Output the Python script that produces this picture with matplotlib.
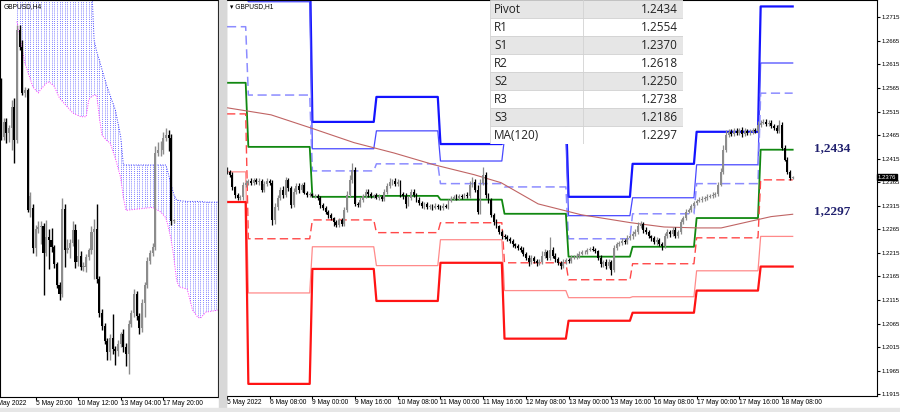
import numpy as np
import matplotlib.pyplot as plt
from matplotlib.patches import Rectangle

# ---- H1 data (GBPUSD, from 5 May 16:00) ----
h1_close = [
    1.2387, 1.2381, 1.2355, 1.2338, 1.2332, 1.2334, 1.2360, 1.2364, 1.2368, 1.2364,
    1.2370, 1.2366, 1.2368, 1.2349, 1.2362, 1.2368, 1.2364, 1.2285, 1.2313, 1.2332,
    1.2349, 1.2338, 1.2370, 1.2353, 1.2317, 1.2345, 1.2358, 1.2349, 1.2360, 1.2343,
    1.2338, 1.2340, 1.2336, 1.2336, 1.2332, 1.2317, 1.2311, 1.2302, 1.2296, 1.2289,
    1.2281, 1.2275, 1.2285, 1.2277, 1.2306, 1.2338, 1.2370, 1.2391, 1.2319, 1.2317,
    1.2328, 1.2336, 1.2345, 1.2340, 1.2336, 1.2338, 1.2332, 1.2334, 1.2330, 1.2345,
    1.2358, 1.2366, 1.2368, 1.2362, 1.2366, 1.2340, 1.2336, 1.2319, 1.2332, 1.2345,
    1.2338, 1.2328, 1.2321, 1.2315, 1.2319, 1.2313, 1.2315, 1.2311, 1.2315, 1.2313,
    1.2311, 1.2315, 1.2313, 1.2326, 1.2330, 1.2334, 1.2332, 1.2336, 1.2334, 1.2338,
    1.2336, 1.2360, 1.2366, 1.2349, 1.2302, 1.2364, 1.2381, 1.2338, 1.2328, 1.2296,
    1.2281, 1.2272, 1.2260, 1.2251, 1.2249, 1.2245, 1.2240, 1.2234, 1.2230, 1.2226,
    1.2222, 1.2213, 1.2205, 1.2196, 1.2205, 1.2198, 1.2194, 1.2196, 1.2209, 1.2217,
    1.2205, 1.2222, 1.2209, 1.2202, 1.2194, 1.2188, 1.2196, 1.2200, 1.2198, 1.2205,
    1.2207, 1.2209, 1.2213, 1.2217, 1.2217, 1.2222, 1.2224, 1.2222, 1.2219, 1.2205,
    1.2192, 1.2196, 1.2188, 1.2196, 1.2179, 1.2226, 1.2234, 1.2236, 1.2240, 1.2238,
    1.2247, 1.2251, 1.2255, 1.2260, 1.2272, 1.2277, 1.2264, 1.2260, 1.2251, 1.2247,
    1.2238, 1.2243, 1.2234, 1.2230, 1.2251, 1.2260, 1.2255, 1.2264, 1.2251, 1.2260,
    1.2281, 1.2289, 1.2302, 1.2306, 1.2315, 1.2321, 1.2326, 1.2328, 1.2330, 1.2332,
    1.2334, 1.2336, 1.2338, 1.2340, 1.2360, 1.2387, 1.2434, 1.2466, 1.2472, 1.2468,
    1.2474, 1.2470, 1.2476, 1.2468, 1.2474, 1.2470, 1.2472, 1.2476, 1.2474, 1.2487,
    1.2491, 1.2493, 1.2489, 1.2491, 1.2485, 1.2481, 1.2474, 1.2487, 1.2438, 1.2413,
    1.2387, 1.2374, 1.2376]
h1_first_open = 1.2392
# upper / lower wick lengths in pips
h1_up = [5, 4, 6, 3, 5, 4, 6, 5, 4, 6, 4, 5, 6, 4, 5, 6, 4, 5, 7, 6,
         5, 8, 6, 5, 4, 7, 5, 6, 4, 5, 4, 5, 3, 4, 5, 4, 3, 4, 5, 4,
         3, 4, 5, 4, 6, 8, 10, 15, 6, 5, 5, 4, 6, 5, 4, 3, 4, 5, 4, 6,
         5, 8, 4, 6, 5, 4, 5, 6, 4, 5, 5, 4, 6, 5, 4, 5, 3, 4, 5, 4,
         4, 5, 3, 4, 6, 4, 5, 3, 4, 5, 6, 8, 11, 6, 10, 8, 17, 6, 5, 4,
         4, 5, 3, 4, 5, 3, 4, 5, 3, 4, 4, 5, 4, 6, 5, 4, 3, 7, 9, 6,
         5, 27, 6, 5, 4, 3, 6, 5, 4, 5, 4, 5, 6, 5, 4, 3, 4, 5, 4, 3,
         5, 4, 5, 6, 4, 5, 4, 5, 6, 4, 5, 4, 6, 5, 8, 6, 4, 5, 4, 3,
         4, 5, 3, 4, 6, 5, 4, 6, 5, 4, 5, 4, 6, 5, 4, 5, 4, 6, 5, 4,
         5, 4, 6, 5, 6, 8, 10, 9, 6, 5, 6, 7, 5, 6, 5, 4, 6, 5, 4, 8,
         5, 6, 7, 5, 6, 4, 5, 10, 5, 6, 5, 4, 2]
h1_dn = [4, 5, 6, 7, 5, 4, 6, 5, 4, 5, 5, 4, 6, 5, 4, 6, 5, 10, 8, 6,
         5, 6, 4, 6, 7, 5, 4, 6, 5, 4, 5, 4, 3, 5, 4, 6, 5, 4, 6, 5,
         9, 6, 4, 5, 4, 5, 4, 6, 5, 4, 4, 5, 4, 6, 5, 4, 3, 4, 5, 4,
         4, 5, 6, 4, 5, 6, 7, 8, 5, 4, 5, 6, 4, 5, 6, 4, 5, 4, 3, 4,
         5, 4, 3, 5, 4, 3, 4, 5, 4, 3, 4, 5, 6, 5, 5, 4, 5, 6, 7, 5,
         6, 5, 4, 6, 5, 4, 5, 6, 5, 4, 5, 4, 6, 8, 5, 4, 6, 5, 4, 5,
         6, 5, 4, 6, 5, 7, 4, 5, 4, 5, 4, 5, 4, 3, 4, 5, 4, 3, 5, 6,
         7, 6, 8, 6, 10, 5, 4, 5, 4, 5, 4, 5, 6, 4, 5, 4, 6, 5, 4, 6,
         5, 6, 4, 8, 5, 4, 6, 5, 4, 5, 4, 5, 4, 3, 4, 5, 4, 3, 4, 5,
         4, 3, 4, 5, 4, 3, 4, 5, 4, 5, 4, 5, 4, 6, 5, 4, 5, 4, 5, 4,
         4, 3, 4, 5, 4, 5, 4, 5, 4, 3, 4, 5, 2]

h1_ticks = [0, 16, 32, 48, 64, 80, 96, 112, 128, 144, 160, 176, 192, 208]
h1_tick_labels = ["5 May 2022", "6 May 08:00", "9 May 00:00", "9 May 16:00",
                  "10 May 08:00", "11 May 00:00", "11 May 16:00", "12 May 08:00",
                  "13 May 00:00", "13 May 16:00", "16 May 08:00", "17 May 00:00",
                  "17 May 16:00", "18 May 08:00"]

# daily pivot levels (day start bars)
day_start = [0, 8, 32, 56, 80, 104, 128, 152, 176, 200]
R3 = [1.2879, 1.2856, 1.2493, 1.2546, 1.2446, 1.2517, 1.2334, 1.2404, 1.2472, 1.2738]
R2 = [1.2761, 1.2748, 1.2436, 1.2474, 1.2410, 1.2459, 1.2294, 1.2332, 1.2402, 1.2618]
R1 = [1.2695, 1.2550, 1.2389, 1.2404, 1.2362, 1.2355, 1.2245, 1.2298, 1.2362, 1.2554]
PP = [1.2576, 1.2440, 1.2334, 1.2336, 1.2328, 1.2298, 1.2207, 1.2228, 1.2289, 1.2434]
S1 = [1.2510, 1.2245, 1.2285, 1.2258, 1.2279, 1.2194, 1.2158, 1.2192, 1.2247, 1.2370]
S2 = [1.2387, 1.2130, 1.2228, 1.2188, 1.2243, 1.2135, 1.2120, 1.2122, 1.2177, 1.2250]
S3 = [1.2323, 1.1937, 1.2181, 1.2113, 1.2194, 1.2033, 1.2071, 1.2088, 1.2135, 1.2186]

ma_bar = [0, 16.5, 31.5, 47.6, 62.6, 77.6, 92.6, 102.7, 116.6, 132.7, 151.4, 163.8,
          176.5, 185.2, 195.3, 203.9, 212]
ma_val = [1.2523, 1.2508, 1.2480, 1.2449, 1.2427, 1.2402, 1.2381, 1.2364, 1.2319,
          1.2296, 1.2279, 1.2270, 1.2268, 1.2268, 1.2281, 1.2292, 1.2297]

table_names = ["Pivot", "R1", "S1", "R2", "S2", "R3", "S3", "MA(120)"]
table_values = [1.2434, 1.2554, 1.2370, 1.2618, 1.2250, 1.2738, 1.2186, 1.2297]

# ---- H4 data: bars from 3 May 16:00 to 5 May 12:00 (later bars come from H1) ----
h4_open = [1.2558, 1.2488, 1.2508, 1.2493, 1.2500, 1.2528, 1.2484, 1.2632, 1.2609, 1.2547, 1.2551, 1.2389]
h4_high = [1.2567, 1.2513, 1.2513, 1.2504, 1.2538, 1.2540, 1.2638, 1.2638, 1.2618, 1.2555, 1.2554, 1.2414]
h4_low = [1.2484, 1.2484, 1.2480, 1.2481, 1.2470, 1.2453, 1.2480, 1.2605, 1.2544, 1.2542, 1.2387, 1.2380]
h4_close = [1.2488, 1.2508, 1.2493, 1.2500, 1.2528, 1.2484, 1.2632, 1.2609, 1.2547, 1.2551, 1.2389, 1.2408]
h4_ticks = [-3.5, 13, 29, 45, 61]
h4_tick_labels = ["3 May 2022", "5 May 20:00", "10 May 12:00", "13 May 04:00", "17 May 20:00"]

# ichimoku cloud edges (H4 bar index)
kumo_bar = [6, 8, 9, 12, 14, 15, 17, 18, 20, 22, 25, 27, 30, 32, 33, 34, 35, 36, 37, 38,
            40, 41, 43, 45, 46, 47, 57, 60, 62, 63, 64, 65, 66, 67, 70, 72, 74, 75, 77, 82]
kumo_top = [1.2699] * 16 + [1.2618, 1.2602, 1.2591, 1.2578, 1.2554, 1.2544, 1.2524, 1.2488,
                            1.2450, 1.2450, 1.2450, 1.2450, 1.2450, 1.2437, 1.2423, 1.2410,
                            1.2403, 1.2402, 1.2401, 1.2401, 1.2401, 1.2401, 1.2400, 1.2400]
kumo_bot = [1.2643, 1.2605, 1.2587, 1.2555, 1.2547, 1.2552, 1.2560, 1.2562, 1.2556, 1.2540,
            1.2528, 1.2520, 1.2515, 1.2515, 1.2538, 1.2542, 1.2544, 1.2544, 1.2513, 1.2490,
            1.2482, 1.2480, 1.2459, 1.2433, 1.2406, 1.2389, 1.2393, 1.2387, 1.2379, 1.2365,
            1.2349, 1.2325, 1.2295, 1.2286, 1.2283, 1.2255, 1.2245, 1.2244, 1.2252, 1.2255]

W, H = 900, 412
plt.rcParams['font.family'] = ['Liberation Sans', 'DejaVu Sans']
fig = plt.figure(figsize=(9, 4.12), dpi=100)


def px_axes(x0, y0, x1, y1):
    return fig.add_axes([x0 / W, 1 - y1 / H, (x1 - x0) / W, (y1 - y0) / H])


def candles(ax, o, h, l, c, width, lw):
    o, h, l, c = map(np.asarray, (o, h, l, c))
    x = np.arange(len(c))
    cols = np.where(c >= o, '#8c8c8c', 'black')
    ax.vlines(x, l, h, colors=cols, lw=lw, zorder=4)
    ax.bar(x, np.maximum(np.abs(c - o), 0.00005), width, bottom=np.minimum(o, c),
           color=cols, linewidth=0, zorder=5)


def date_labels(ax, ticks, labels):
    ax.set_xticks([t for t in ticks if t >= ax.get_xlim()[0]])
    ax.set_xticklabels([])
    ax.tick_params(axis='x', length=2)
    tr = ax.get_xaxis_transform()
    for t, s in zip(ticks, labels):
        ax.text(t, -0.007, s, transform=tr, fontsize=4.8, ha='left', va='top', clip_on=False)


# H1 ohlc
c1 = np.array(h1_close)
o1 = np.concatenate([[h1_first_open], c1[:-1]])
hi1 = np.maximum(o1, c1) + np.array(h1_up) * 0.0001
lo1 = np.minimum(o1, c1) - np.array(h1_dn) * 0.0001

# H4 ohlc: first bars as read, the rest grouped from H1 bars
o4, h4, l4, c4 = list(h4_open), list(h4_high), list(h4_low), list(h4_close)
for k in range(0, len(c1), 4):
    o4.append(o1[k]); c4.append(c1[min(k + 3, len(c1) - 1)])
    h4.append(hi1[k:k + 4].max()); l4.append(lo1[k:k + 4].min())

# gray frame pieces
fig.patches.append(Rectangle((218.5 / W, 0), 7 / W, 1, transform=fig.transFigure,
                             color='#d8d8d8', zorder=0))
fig.patches.append(Rectangle((0, 0), 1, 4 / H, transform=fig.transFigure,
                             color='#e6e6e6', zorder=0))

# ---- left panel (H4 with cloud) ----
axl = px_axes(0, 0, 218, 397)
axl.set_xlim(-0.376, 81.58)
axl.set_ylim(1.21378, 1.26721)
poly = axl.fill_between(kumo_bar, kumo_bot, kumo_top, facecolor='none', edgecolor='none')
clip = poly.get_paths()[0]
dots = axl.vlines(np.arange(5, 83), 1.2, 1.28, colors='#5252ff', lw=0.6,
                  linestyles=(0, (1.0, 1.5)), zorder=1)
dots.set_clip_path(clip, axl.transData)
axl.plot(kumo_bar, kumo_top, color='#3030ff', lw=0.7, ls=(0, (1, 1.5)), zorder=2)
axl.plot(kumo_bar, kumo_bot, color='#ff30ff', lw=0.7, ls=(0, (1, 1.5)), zorder=2)
candles(axl, o4, h4, l4, c4, 0.8, 1.0)
axl.set_yticks([])
date_labels(axl, h4_ticks, h4_tick_labels)
for s in axl.spines.values():
    s.set_linewidth(0.8)
axl.text(0.015, 0.993, "GBPUSD,H4", transform=axl.transAxes, fontsize=4.8, va='top')

# ---- right panel (H1 with pivots) ----
ax = px_axes(226, 0, 877, 396)
ax.set_xlim(-0.375, 243.6)
ax.set_ylim(1.19113, 1.27517)

ends = day_start[1:] + [len(c1)]


def step(levels, **kw):
    xs, ys = [], []
    for s, e, v in zip(day_start, ends, levels):
        xs += [s, e - 1]
        ys += [v, v]
    ax.plot(xs, ys, **kw)


step(R3, color='#1414ff', lw=1.6, zorder=2)
step(R2, color='#4848ff', lw=0.9, zorder=2)
step(R1, color='#8c8cff', lw=1.1, ls=(0, (6, 3)), zorder=2)
step(PP, color='#118811', lw=1.3, zorder=2)
step(S1, color='#ff4848', lw=1.0, ls=(0, (6, 3)), zorder=2)
step(S2, color='#ff8a8a', lw=0.9, zorder=2)
step(S3, color='#ff1414', lw=1.6, zorder=2)
ax.plot(ma_bar, ma_val, color='#c06464', lw=0.8, zorder=2)
candles(ax, o1, hi1, lo1, c1, 0.7, 0.9)

date_labels(ax, h1_ticks, h1_tick_labels)
yt = np.round(np.arange(1.1915, 1.2716, 0.005), 4)
ax.set_yticks(yt)
ax.set_yticklabels([f"{v:.4f}" for v in yt])
ax.yaxis.tick_right()
ax.tick_params(axis='y', length=2, labelsize=4.3, pad=1.5)
for s in ax.spines.values():
    s.set_linewidth(0.8)
ax.text(1.0015, c1[-1], f"{c1[-1]:.4f}", transform=ax.get_yaxis_transform(),
        fontsize=4.3, color='white', va='center', ha='left',
        bbox=dict(boxstyle='square,pad=0.15', fc='black', ec='black'))
ax.text(0.006, 0.993, "\u25be GBPUSD,H1", transform=ax.transAxes, fontsize=4.8, va='top')

fig.text(814 / W, 1 - 148 / H, f"{PP[-1]:.4f}".replace('.', ','), family='Liberation Serif',
         weight='bold', fontsize=9.5, color='#20206e', va='center')
fig.text(814 / W, 1 - 211 / H, f"{ma_val[-1]:.4f}".replace('.', ','), family='Liberation Serif',
         weight='bold', fontsize=9.5, color='#20206e', va='center')

# ---- value table ----
tab = px_axes(490, 0, 683, 144)
tab.set_xlim(0, 193)
tab.set_ylim(144, 0)
tab.axis('off')
for r, (name, val) in enumerate(zip(table_names, table_values)):
    fc = '#e6e6e6' if r % 2 == 0 else 'white'
    tab.add_patch(Rectangle((0, 18 * r), 193, 18, fc=fc, ec='#d2d2d2', lw=0.6))
    tab.text(4, 18 * r + 9.5, name, fontsize=8.5, va='center', color='#222222',
             family=['Open Sans', 'DejaVu Sans'])
    tab.text(188, 18 * r + 9.5, f"{val:.4f}", fontsize=8.5, va='center', ha='right',
             color='#222222', family=['Open Sans', 'DejaVu Sans'])
tab.plot([93, 93], [0, 144], color='#d2d2d2', lw=0.6)

fig.savefig("out.png", dpi=100)
